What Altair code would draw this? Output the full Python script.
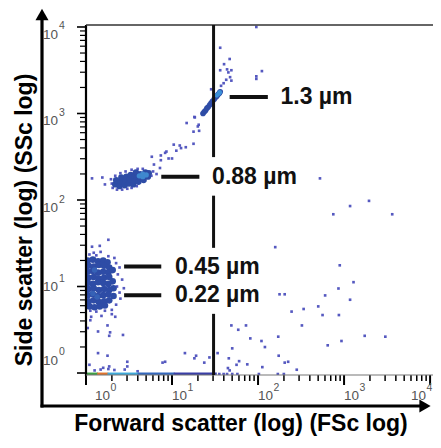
import altair as alt
import pandas as pd

# ---------------- data (log10 of FSc and SSc) ----------------
# sparse events around the 0.22 / 0.45 um cloud
near045_fsc = [0.35, 0.37, 0.36, 0.39, 0.40, 0.35, 0.30, 0.22, 0.12, 0.05, 0.33, 0.26, 0.12, 0.04, 0.42,
               0.44, 0.39, 0.07, 0.16, 0.26, 0.09, 0.17, 0.30, 0.18, 0.06, 0.34, 0.05, 0.02, 0.14, 0.25,
               0.28, 0.43, 0.27]
near045_ssc = [1.27, 1.14, 1.00, 0.93, 0.86, 0.79, 0.73, 0.72, 0.71, 0.72, 1.33, 1.35, 1.36, 1.37, 1.08,
               0.98, 1.22, 1.46, 1.47, 1.54, 1.39, 1.40, 0.68, 0.66, 0.65, 0.65, 0.61, 0.52, 0.48, 0.55,
               0.47, 0.44, 0.43]
# sparse events near the floor
low_fsc = [0.14, 0.25, 0.04, 0.27, 0.26, 0.48, 0.48, 0.89, 0.92, 1.15, 1.26, 1.28, 1.375, 1.435, 1.53,
           1.66, 1.65, 1.67, 1.70, 1.75, 1.78, 1.875, 1.91, 2.04, 2.05, 2.08, 2.235, 2.24, 2.31, 2.45,
           2.81, 2.97, 3.24, 3.48, 0.10, 0.17, 0.20, 0.33, 0.45, 0.60, 2.35]
low_ssc = [0.23, 0.20, 0.095, 0.076, 0.046, 0.13, 0.076, 0.12, 0.13, 0.23, 0.17, 0.20, 0.12, 0.18, 0.23,
           0.17, 0.057, 0.03, 0.285, 0.095, 0.137, 0.10, 0.40, 0.37, 0.068, 0.30, 0.42, 0.20, 0.12, 0.038,
           0.32, 0.37, 0.43, 0.42, 0.03, 0.04, 0.06, 0.035, 0.04, 0.02, 0.13]
# sparse events on the right
right_fsc = [2.72, 3.07, 3.29, 2.875, 3.56, 2.20, 2.95, 3.11, 2.935, 2.78, 3.07, 2.25, 2.31, 2.39, 2.53,
             2.70, 2.75, 2.94, 2.51, 1.69, 1.77, 1.86]
right_ssc = [2.25, 1.93, 1.99, 1.835, 1.835, 1.455, 1.245, 1.05, 0.977, 0.897, 0.847, 0.91, 0.91, 0.71, 0.74,
             0.77, 0.67, 0.67, 0.55, 0.55, 0.50, 0.55]
# sparse events around the 0.88 um cloud
near088_fsc = [0.30, 0.31, 0.36, 0.42, 0.48, 0.53, 0.59, 0.29, 0.34, 0.40, 0.46, 0.53, 0.60, 0.66, 0.76,
               0.78, 0.82, 0.07, 0.19, 0.22]
near088_ssc = [2.19, 2.14, 2.12, 2.12, 2.13, 2.14, 2.16, 2.24, 2.28, 2.31, 2.33, 2.35, 2.36, 2.36, 2.28,
               2.33, 2.30, 2.25, 2.26, 2.18]
# trail between 0.88 um and 1.3 um
trail_fsc = [0.765, 0.87, 0.87, 0.92, 0.935, 0.96, 1.00, 1.02, 1.05, 1.09, 1.105, 1.16, 1.25, 1.25, 1.30,
             1.17, 0.86, 0.79, 1.265, 1.315, 1.26, 1.31]
trail_ssc = [2.50, 2.515, 2.46, 2.545, 2.56, 2.48, 2.48, 2.64, 2.57, 2.63, 2.60, 2.61, 2.65, 2.79, 2.85,
             2.89, 2.37, 2.41, 2.955, 2.80, 2.96, 2.87]
# events above the 1.3 um streak
upper_fsc = [1.56, 1.56, 1.605, 1.67, 1.64, 1.655, 1.69, 1.675, 1.63, 1.60, 1.57, 1.455, 1.69, 2.045,
             1.98, 1.98, 1.98]
upper_ssc = [3.76, 3.50, 3.57, 3.63, 3.51, 3.475, 3.50, 3.42, 3.39, 3.35, 3.32, 3.28, 3.38, 3.49,
             3.43, 3.40, 4.00]
# isolated events on the floor
floordot_fsc = [1.55, 1.60, 1.64, 1.70, 1.76, 2.01, 2.23, 2.30]
floordot_ssc = [-0.012, -0.012, -0.012, -0.012, -0.012, -0.012, -0.012, -0.012]

# dense cloud: 0.22 / 0.45 um beads
b045_fsc = [0.02, 0.08, 0.14, 0.20, 0.25, 0.03, 0.09, 0.15, 0.21, 0.27, 0.02, 0.08, 0.14, 0.20, 0.26, 0.31,
            0.03, 0.09, 0.15, 0.21, 0.27, 0.02, 0.08, 0.14, 0.20, 0.26, 0.31, 0.03, 0.09, 0.15, 0.21, 0.27,
            0.32, 0.02, 0.08, 0.14, 0.20, 0.26, 0.32, 0.03, 0.09, 0.15, 0.21, 0.27, 0.04, 0.10, 0.16, 0.22]
b045_ssc = [1.30, 1.31, 1.29, 1.30, 1.28, 1.24, 1.23, 1.25, 1.24, 1.22, 1.17, 1.18, 1.16, 1.17, 1.16, 1.19,
            1.10, 1.11, 1.09, 1.10, 1.11, 1.04, 1.03, 1.05, 1.04, 1.03, 1.06, 0.97, 0.98, 0.96, 0.97, 0.96,
            0.98, 0.90, 0.91, 0.89, 0.90, 0.91, 0.89, 0.83, 0.84, 0.82, 0.83, 0.84, 0.77, 0.76, 0.77, 0.78]
b045core_fsc = [0.08, 0.13, 0.10]
b045core_ssc = [0.92, 0.88, 1.19]
# dense cloud: 0.88 um beads
b088_fsc = [0.34, 0.35, 0.39, 0.40, 0.41, 0.45, 0.46, 0.47, 0.50, 0.51, 0.52, 0.55, 0.56, 0.57, 0.58,
            0.61, 0.62, 0.63, 0.67, 0.68, 0.69, 0.72, 0.73]
b088_ssc = [2.18, 2.23, 2.16, 2.21, 2.26, 2.17, 2.22, 2.27, 2.19, 2.24, 2.29, 2.18, 2.23, 2.28, 2.32,
            2.21, 2.26, 2.30, 2.23, 2.28, 2.32, 2.27, 2.31]
b088core_fsc = [0.62, 0.66, 0.66, 0.70]
b088core_ssc = [2.28, 2.27, 2.30, 2.29]
# streak: 1.3 um beads
s13_fsc = [1.36, 1.375, 1.39, 1.405, 1.42, 1.44, 1.455, 1.47, 1.49, 1.505, 1.52, 1.535, 1.55, 1.56]
s13_ssc = [3.00, 3.02, 3.035, 3.06, 3.075, 3.10, 3.12, 3.14, 3.165, 3.185, 3.20, 3.22, 3.235, 3.25]
s13core_fsc = [1.52, 1.545, 1.555]
s13core_ssc = [3.21, 3.23, 3.245]

# floor band (events piled at the minimum SSc), by density level
floor_from = [0.00, 0.13, 0.25, 0.60, 1.02]
floor_to = [0.14, 0.26, 0.61, 1.03, 1.52]
floor_level = ["very high", "high", "medium", "low", "very low"]
floor_ssc = [-0.012, -0.012, -0.012, -0.012, -0.012]

# gate line (log FSc) and its visible pieces (log SSc)
gate_fsc = [1.483, 1.483, 1.483]
gate_top = [4.03, 2.05, 0.684]
gate_bottom = [2.496, 1.447, -0.03]

# bead size labels
labels = ["1.3 µm", "0.88 µm", "0.45 µm", "0.22 µm"]
label_ssc = [3.191, 2.268, 1.231, 0.900]
dash_from = [1.670, 0.875, 0.443, 0.443]
dash_to = [2.114, 1.318, 0.875, 0.875]
label_fsc = [2.261, 1.466, 1.034, 1.034]

# axes
major_ticks = [1, 10, 100, 1000, 10000]
tick_exponent = ["0", "1", "2", "3", "4"]
minor_ticks = [2, 3, 4, 5, 6, 7, 8, 9, 20, 30, 40, 50, 60, 70, 80, 90,
               200, 300, 400, 500, 600, 700, 800, 900, 2000, 3000, 4000, 5000, 6000, 7000, 8000, 9000]
x_title = ["Forward scatter (log) (FSc log)"]
y_title = ["Side scatter (log) (SSc log)"]

# ---------------- chart ----------------
W, H = 347, 350
xs = alt.Scale(type="log", domain=[1, 10 ** 4.034], nice=False)
ys = alt.Scale(type="log", domain=[10 ** -0.023, 10 ** 4.023], nice=False)
TOP = {"fsc": "pow(10, datum.lfsc)", "ssc": "pow(10, datum.lssc)"}
LF, LC = "Liberation Sans", "#555"
TF = "Liberation Sans"


def pts(fs, ss):
    return alt.Chart(pd.DataFrame({"lfsc": fs, "lssc": ss})).transform_calculate(**TOP)


def xy():
    return dict(x=alt.X("fsc:Q", scale=xs, axis=None), y=alt.Y("ssc:Q", scale=ys, axis=None))


DOT = "#4c50bd"
BLOB = "#2e4ca6"

dot_fs = near045_fsc + low_fsc + right_fsc + near088_fsc + trail_fsc + upper_fsc + floordot_fsc
dot_ss = near045_ssc + low_ssc + right_ssc + near088_ssc + trail_ssc + upper_ssc + floordot_ssc

dots = pts(dot_fs, dot_ss).mark_square(size=7, color=DOT, opacity=0.95, clip=True).encode(**xy())
blob045 = pts(b045_fsc, b045_ssc).mark_circle(size=44, color=BLOB, opacity=1, clip=True).encode(**xy())
blob045c = pts(b045core_fsc, b045core_ssc).mark_circle(size=30, color="#3662b6", opacity=1, clip=True).encode(**xy())
blob088 = pts(b088_fsc, b088_ssc).mark_circle(size=40, color=BLOB, opacity=1).encode(**xy())
blob088c = pts(b088core_fsc, b088core_ssc).mark_circle(size=28, color="#3f88cf", opacity=1).encode(**xy())
streak = pts(s13_fsc, s13_ssc).mark_circle(size=32, color=BLOB, opacity=1).encode(**xy())
streakc = pts(s13core_fsc, s13core_ssc).mark_circle(size=22, color="#3b90d8", opacity=1).encode(**xy())

floor = alt.Chart(pd.DataFrame({"a": floor_from, "b": floor_to, "s": floor_ssc, "level": floor_level})
                  ).transform_calculate(fa="pow(10, datum.a)", fb="pow(10, datum.b)", fs="pow(10, datum.s)"
                                        ).mark_rule(strokeWidth=3, clip=True).encode(
    x=alt.X("fa:Q", scale=xs, axis=None), x2="fb:Q", y=alt.Y("fs:Q", scale=ys, axis=None),
    color=alt.Color("level:N", legend=None, scale=alt.Scale(
        domain=["very high", "high", "medium", "low", "very low"],
        range=["#3f9f45", "#e0742e", "#3fa9d9", "#3568bd", "#3a3fa6"])))

# ---- hand-built log axes (ticks, labels, frame) ----
one = pd.DataFrame({"k": [0]})
minor_df = pd.DataFrame({"v": minor_ticks})
major_df = pd.DataFrame({"v": major_ticks, "e": tick_exponent})

xminor = alt.Chart(minor_df).mark_rule(color="black", strokeWidth=1.5).encode(
    x=alt.X("v:Q", scale=xs, axis=None), y=alt.value(H), y2=alt.value(H + 6))
yminor = alt.Chart(minor_df).mark_rule(color="black", strokeWidth=1.2).encode(
    y=alt.Y("v:Q", scale=ys, axis=None), x=alt.value(-6), x2=alt.value(0))
xmajor = alt.Chart(major_df).mark_rule(color="black", strokeWidth=2).encode(
    x=alt.X("v:Q", scale=xs, axis=None), y=alt.value(H), y2=alt.value(H + 10))
ymajor = alt.Chart(major_df).mark_rule(color="black", strokeWidth=1.6).encode(
    y=alt.Y("v:Q", scale=ys, axis=None), x=alt.value(-9), x2=alt.value(0))

frame_left = alt.Chart(one).mark_rule(color="black", strokeWidth=2.2).encode(
    x=alt.value(0), y=alt.value(0), y2=alt.value(H + 1))
frame_bottom = alt.Chart(one).mark_rule(color="#777", strokeWidth=1.2).encode(
    y=alt.value(H), x=alt.value(0), x2=alt.value(W))
frame_top = alt.Chart(one).mark_rule(color="#333", strokeWidth=1.5).encode(
    y=alt.value(0), x=alt.value(0), x2=alt.value(W))


def xlab(vals, dx):
    base = alt.Chart(major_df).transform_filter(alt.FieldOneOfPredicate(field="v", oneOf=vals))
    ten = base.mark_text(align="left", baseline="middle", dx=dx, font=LF, fontSize=13.5, color=LC).encode(
        x=alt.X("v:Q", scale=xs, axis=None), y=alt.value(H + 21), text=alt.value("10"))
    ex = base.mark_text(align="left", baseline="middle", dx=dx + 15.5, font=LF, fontSize=10.5, color=LC).encode(
        x=alt.X("v:Q", scale=xs, axis=None), y=alt.value(H + 13), text="e:N")
    return [ten, ex]


def ylab(vals, dy):
    base = alt.Chart(major_df).transform_filter(alt.FieldOneOfPredicate(field="v", oneOf=vals))
    ten = base.mark_text(align="right", baseline="middle", dy=dy, font=LF, fontSize=13.5, color=LC).encode(
        y=alt.Y("v:Q", scale=ys, axis=None), x=alt.value(-28), text=alt.value("10"))
    ex = base.mark_text(align="left", baseline="middle", dy=dy - 8.5, font=LF, fontSize=10.5, color=LC).encode(
        y=alt.Y("v:Q", scale=ys, axis=None), x=alt.value(-27), text="e:N")
    return [ten, ex]


tick_labels = (xlab([1], 9) + xlab([10, 100, 1000], 0) + xlab([10000], -19)
               + ylab([1], -12.5) + ylab([10], 0.5) + ylab([100, 1000, 10000], 8))

xtitle = alt.Chart(pd.DataFrame({"t": x_title})).mark_text(
    align="center", baseline="alphabetic", font=TF, fontSize=23, fontWeight="bold", color="black").encode(
    x=alt.value(155), y=alt.value(H + 56), text="t:N")
ytitle = alt.Chart(pd.DataFrame({"t": y_title})).mark_text(
    align="center", baseline="alphabetic", angle=270, font=TF, fontSize=23, fontWeight="bold",
    color="black").encode(x=alt.value(-54), y=alt.value(195), text="t:N")

# ---- gate line and annotations ----
gate = alt.Chart(pd.DataFrame({"g": gate_fsc, "t": gate_top, "b": gate_bottom})).transform_calculate(
    gx="pow(10, datum.g)", gt="pow(10, datum.t)", gb="pow(10, datum.b)"
).mark_rule(color="#111", strokeWidth=3, clip=True).encode(
    x=alt.X("gx:Q", scale=xs, axis=None), y=alt.Y("gt:Q", scale=ys, axis=None), y2="gb:Q")

ann_df = pd.DataFrame({"label": labels, "s": label_ssc, "d0": dash_from, "d1": dash_to, "t": label_fsc})
ann_base = alt.Chart(ann_df).transform_calculate(
    ys_="pow(10, datum.s)", x0="pow(10, datum.d0)", x1="pow(10, datum.d1)", xt="pow(10, datum.t)")
dashes = ann_base.mark_rule(color="#111", strokeWidth=4).encode(
    x=alt.X("x0:Q", scale=xs, axis=None), x2="x1:Q", y=alt.Y("ys_:Q", scale=ys, axis=None))
texts = ann_base.mark_text(align="left", baseline="middle", font=TF, fontSize=23,
                           fontWeight="bold", color="#111").encode(
    x=alt.X("xt:Q", scale=xs, axis=None), y=alt.Y("ys_:Q", scale=ys, axis=None), text="label:N")

# ---- outer arrows ----
arrow_v = alt.Chart(one).mark_rule(color="black", strokeWidth=3.2).encode(
    x=alt.value(-44), y=alt.value(-11), y2=alt.value(H + 32.5))
arrow_h = alt.Chart(one).mark_rule(color="black", strokeWidth=3.2).encode(
    y=alt.value(H + 31), x=alt.value(-45.5), x2=alt.value(W - 8))
head_up = alt.Chart(one).mark_point(shape="triangle-up", filled=True, size=169, color="black",
                                    opacity=1).encode(x=alt.value(-44), y=alt.value(-10.5))
head_right = alt.Chart(one).mark_point(shape="triangle-right", filled=True, size=169, color="black",
                                       opacity=1).encode(x=alt.value(W - 8), y=alt.value(H + 31))

chart = alt.layer(
    dots, xminor, yminor, xmajor, ymajor, floor, blob045, blob045c, blob088, blob088c, streak, streakc,
    frame_left, frame_bottom, frame_top, *tick_labels, xtitle, ytitle,
    gate, dashes, texts, arrow_v, arrow_h, head_up, head_right
).properties(
    width=W, height=H,
    padding={"left": 78, "top": 17, "right": 0, "bottom": 61},
    autosize=alt.AutoSizeParams(type="none"),
).configure_view(strokeWidth=0)

chart.save("out.html", embed_options={"renderer": "svg", "actions": False})
